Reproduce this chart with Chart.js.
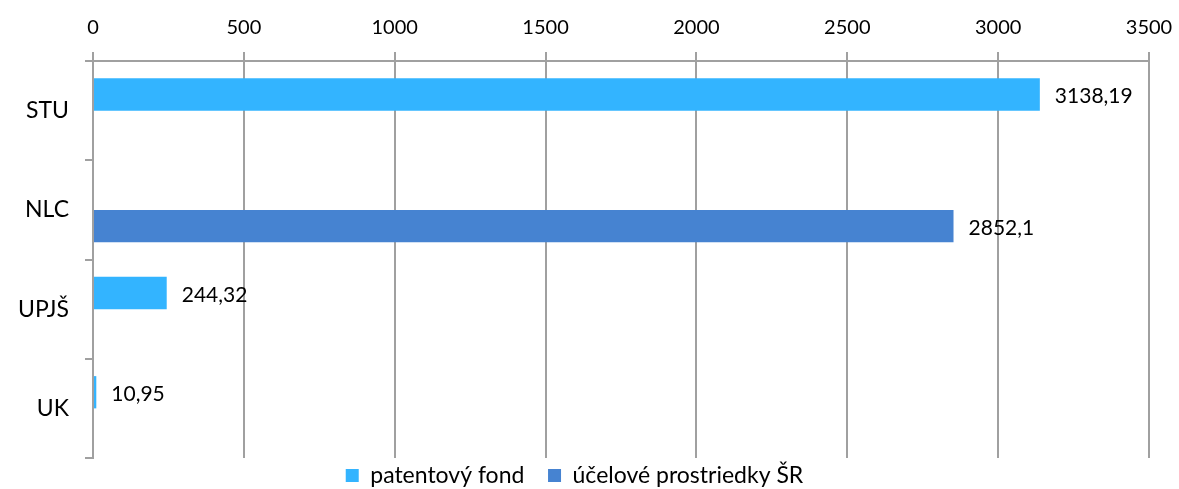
<!DOCTYPE html>
<html>
<head>
<meta charset="utf-8">
<script src="https://cdn.jsdelivr.net/npm/chart.js@4/dist/chart.umd.min.js"></script>
<style>
html,body{margin:0;padding:0;background:#fff;}
#wrap{width:1179px;height:489px;}
</style>
</head>
<body>
<div id="wrap"><canvas id="chart"></canvas></div>
<script>
// values
const categories=['STU','NLC','UPJŠ','UK'];
const patentovyFond=[3138.19,null,244.32,10.95];
const ucelove=[null,2852.1,null,null];
const xTicks=[0,500,1000,1500,2000,2500,3000,3500];

const FONT='Lato, "Open Sans", sans-serif';

// value labels to the right of each bar
const valueLabels={
id:'valueLabels',
afterDatasetsDraw(chart){
const c=chart.ctx;
c.save();
c.font='21px '+FONT;
c.fillStyle='#000';
c.textAlign='left';
c.textBaseline='middle';
chart.data.datasets.forEach((ds,i)=>{
const meta=chart.getDatasetMeta(i);
meta.data.forEach((bar,j)=>{
const v=ds.data[j];
if(v==null) return;
c.fillText(String(v).replace('.',','),bar.x+15,bar.y+2);
});
});
c.restore();
}
};

const ctx=document.getElementById('chart');
const chart=new Chart(ctx,{
type:'bar',
data:{labels:categories,datasets:[
{label:'patentový fond',data:patentovyFond,backgroundColor:'#33b4ff'},
{label:'účelové prostriedky ŠR',data:ucelove,backgroundColor:'#4683d1'}
]},
options:{
indexAxis:'y',
responsive:true,
maintainAspectRatio:false,
animation:false,
categoryPercentage:0.65,
barPercentage:1,
layout:{padding:{left:0,right:30,top:4,bottom:-8}},
scales:{
x:{
position:'top',
min:0,max:3500,
afterBuildTicks(s){s.ticks=xTicks.map(v=>({value:v}));},
afterFit(s){s.paddingRight=1;},
grid:{color:'#a0a0a0',lineWidth:2,tickLength:9},
border:{color:'#a0a0a0',width:2},
ticks:{color:'#000',font:{family:FONT,size:20},padding:12,callback:v=>String(v)}
},
y:{
afterFit(s){s.width=93;},
grid:{offset:true,drawOnChartArea:false,color:'#a0a0a0',lineWidth:2,tickLength:8},
border:{color:'#a0a0a0',width:2},
ticks:{color:'#000',font:{family:FONT,size:23},padding:16}
}
},
plugins:{
legend:{
position:'bottom',
labels:{
color:'#000',font:{family:FONT,size:23},boxWidth:13,boxHeight:13,padding:6,
generateLabels(chart){
const items=Chart.defaults.plugins.legend.labels.generateLabels(chart);
items[0].text+='   ';
return items;
}
}
},
tooltip:{enabled:false}
}
},
plugins:[valueLabels]
});
</script>
</body>
</html>
